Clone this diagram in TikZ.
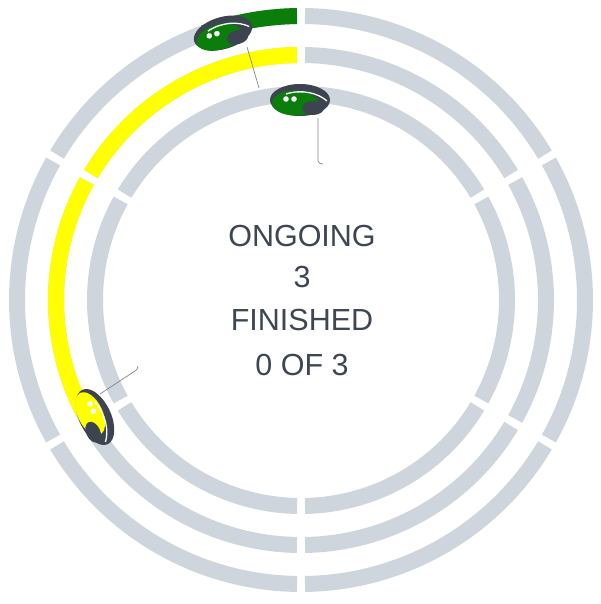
\documentclass[tikz,border=0pt]{standalone}
\usepackage{fontspec}
\setmainfont{Liberation Sans}
\usepackage{tikz}

\definecolor{ringgrey}{RGB}{207,213,220}
\definecolor{doneclr}{RGB}{10,125,10}
\definecolor{halfclr}{RGB}{255,255,0}
\definecolor{pindark}{RGB}{60,68,80}
\definecolor{labelclr}{RGB}{62,70,82}
\definecolor{leadclr}{RGB}{130,135,140}

\tikzset{
  pics/eyepin/.style={code={
    \fill[pindark] (0,0) ellipse[x radius=30pt, y radius=16pt];
    \fill[#1] (-5pt,-3pt) ellipse[x radius=23pt, y radius=12.5pt];
    \fill[pindark] (13pt,-8pt) ellipse[x radius=11pt, y radius=7pt];
    \draw[white, line width=1.3pt] (-14pt,6pt) .. controls (2pt,11pt) and (18pt,7pt) .. (27pt,-1pt);
    \fill[white] (-14pt,1pt) circle[radius=2.8pt] (-6pt,1pt) circle[radius=2.8pt];
  }}
}

\begin{document}
\begin{tikzpicture}[x=1pt,y=1pt,
  ringseg/.style={line width=16pt, draw=ringgrey},
  lead/.style={draw=leadclr, line width=0.7pt},
  count/.style={anchor=base, text=labelclr, font=\fontsize{30.5pt}{36pt}\selectfont}]
\useasboundingbox (-301,-304) rectangle (299,300);

% three rings, six pieces each
\foreach \r/\g in {284/0.8,245/0.95,206/1.1} {
  \foreach \a in {30,90,...,330} {
    \draw[ringseg] (\a+\g:\r pt) arc[start angle=\a+\g, end angle=\a+60-\g, radius=\r pt];
  }
}
\draw[ringseg, draw=doneclr] (90.8:284pt) arc[start angle=90.8, end angle=110, radius=284pt];
\draw[ringseg, draw=halfclr] (90.95:245pt) arc[start angle=90.95, end angle=149.05, radius=245pt];
\draw[ringseg, draw=halfclr] (150.95:245pt) arc[start angle=150.95, end angle=207, radius=245pt];

\coordinate (pinout) at (-78,267);
\coordinate (pinin) at (-1,200);
\coordinate (pinmid) at (-206,-117);

\coordinate (leadA) at (-54,253);
\coordinate (endA) at (-42,212);
\coordinate (leadB) at (17,182);
\coordinate (endB) at (22,136);
\coordinate (leadC) at (-201,-94);
\coordinate (endC) at (-163,-66);

\draw[lead] (leadA) -- (endA);
\draw[lead] (leadB) -- ++(0,-43) to[out=-90,in=180] (endB);
\draw[lead] (leadC) -- ++(35,23) to[out=35,in=-90] (endC);

\pic[rotate=16] (eyeout) at (pinout) {eyepin=doneclr};
\pic (eyein) at (pinin) {eyepin=doneclr};
\pic[rotate=-65] (eyemid) at (pinmid) {eyepin=halfclr};

\node[count] (ongoing) at (1,53.5) {ONGOING};
\node[count] (ongoingnum) at (1,12) {3};
\node[count] (finished) at (1,-31) {FINISHED};
\node[count] (finishednum) at (1,-75) {0 OF 3};
\end{tikzpicture}
\end{document}
